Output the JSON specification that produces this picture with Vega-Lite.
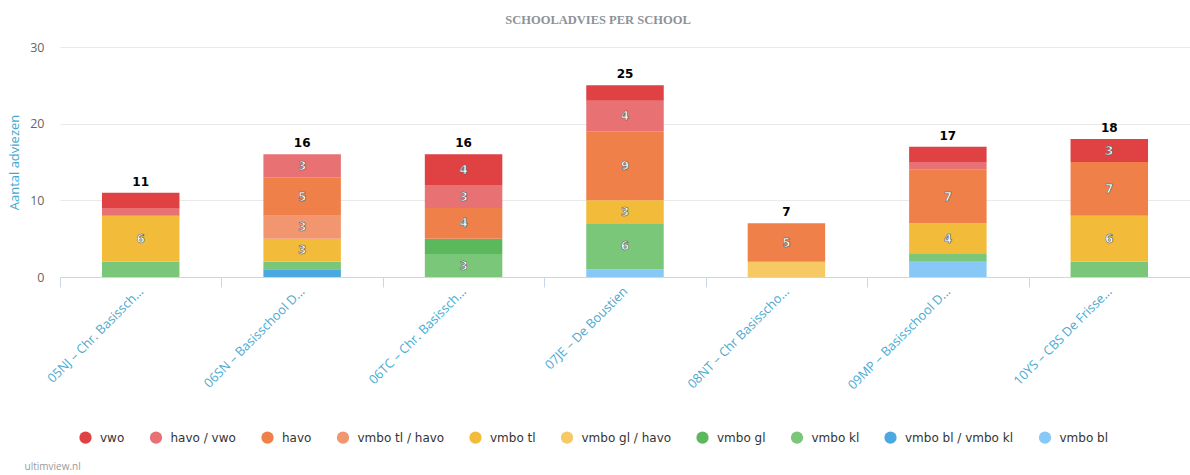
{
  "$schema": "https://vega.github.io/schema/vega-lite/v6.json",
  "autosize": {"type": "none"},
  "width": 1130,
  "height": 230,
  "padding": {"left": 60, "top": 47, "right": 0, "bottom": 198},
  "background": "#ffffff",
  "title": {
    "text": "SCHOOLADVIES PER SCHOOL",
    "font": "Liberation Serif",
    "fontSize": 12.5,
    "fontWeight": "bold",
    "color": "#8e9297",
    "anchor": "middle",
    "frame": "group",
    "dx": -27,
    "offset": 15
  },
  "config": {
    "view": {"stroke": null},
    "font": "Open Sans"
  },
  "datasets": {
    "advies": [
      {"school": "05NJ – Chr. Basissch...", "niveau": "vmbo kl", "rang": 3, "aantal": 2},
      {"school": "05NJ – Chr. Basissch...", "niveau": "vmbo tl", "rang": 6, "aantal": 6},
      {"school": "05NJ – Chr. Basissch...", "niveau": "havo / vwo", "rang": 9, "aantal": 1},
      {"school": "05NJ – Chr. Basissch...", "niveau": "vwo", "rang": 10, "aantal": 2},

      {"school": "06SN – Basisschool D...", "niveau": "vmbo bl / vmbo kl", "rang": 2, "aantal": 1},
      {"school": "06SN – Basisschool D...", "niveau": "vmbo kl", "rang": 3, "aantal": 1},
      {"school": "06SN – Basisschool D...", "niveau": "vmbo tl", "rang": 6, "aantal": 3},
      {"school": "06SN – Basisschool D...", "niveau": "vmbo tl / havo", "rang": 7, "aantal": 3},
      {"school": "06SN – Basisschool D...", "niveau": "havo", "rang": 8, "aantal": 5},
      {"school": "06SN – Basisschool D...", "niveau": "havo / vwo", "rang": 9, "aantal": 3},

      {"school": "06TC – Chr. Basissch...", "niveau": "vmbo kl", "rang": 3, "aantal": 3},
      {"school": "06TC – Chr. Basissch...", "niveau": "vmbo gl", "rang": 4, "aantal": 2},
      {"school": "06TC – Chr. Basissch...", "niveau": "havo", "rang": 8, "aantal": 4},
      {"school": "06TC – Chr. Basissch...", "niveau": "havo / vwo", "rang": 9, "aantal": 3},
      {"school": "06TC – Chr. Basissch...", "niveau": "vwo", "rang": 10, "aantal": 4},

      {"school": "07JE – De Boustien", "niveau": "vmbo bl", "rang": 1, "aantal": 1},
      {"school": "07JE – De Boustien", "niveau": "vmbo kl", "rang": 3, "aantal": 6},
      {"school": "07JE – De Boustien", "niveau": "vmbo tl", "rang": 6, "aantal": 3},
      {"school": "07JE – De Boustien", "niveau": "havo", "rang": 8, "aantal": 9},
      {"school": "07JE – De Boustien", "niveau": "havo / vwo", "rang": 9, "aantal": 4},
      {"school": "07JE – De Boustien", "niveau": "vwo", "rang": 10, "aantal": 2},

      {"school": "08NT – Chr Basisscho...", "niveau": "vmbo gl / havo", "rang": 5, "aantal": 2},
      {"school": "08NT – Chr Basisscho...", "niveau": "havo", "rang": 8, "aantal": 5},

      {"school": "09MP – Basisschool D...", "niveau": "vmbo bl", "rang": 1, "aantal": 2},
      {"school": "09MP – Basisschool D...", "niveau": "vmbo kl", "rang": 3, "aantal": 1},
      {"school": "09MP – Basisschool D...", "niveau": "vmbo tl", "rang": 6, "aantal": 4},
      {"school": "09MP – Basisschool D...", "niveau": "havo", "rang": 8, "aantal": 7},
      {"school": "09MP – Basisschool D...", "niveau": "havo / vwo", "rang": 9, "aantal": 1},
      {"school": "09MP – Basisschool D...", "niveau": "vwo", "rang": 10, "aantal": 2},

      {"school": "10YS – CBS De Frisse...", "niveau": "vmbo kl", "rang": 3, "aantal": 2},
      {"school": "10YS – CBS De Frisse...", "niveau": "vmbo tl", "rang": 6, "aantal": 6},
      {"school": "10YS – CBS De Frisse...", "niveau": "havo", "rang": 8, "aantal": 7},
      {"school": "10YS – CBS De Frisse...", "niveau": "vwo", "rang": 10, "aantal": 3}
    ]
  },
  "data": {"name": "advies"},
  "transform": [
    {"stack": "aantal", "groupby": ["school"], "sort": [{"field": "rang", "order": "ascending"}], "as": ["y0", "y1"]},
    {"calculate": "(datum.y0 + datum.y1) / 2", "as": "ymid"}
  ],
  "encoding": {
    "x": {
      "field": "school",
      "type": "nominal",
      "sort": null,
      "scale": {"paddingInner": 0, "paddingOuter": 0},
      "axis": {
        "tickBand": "extent",
        "domainColor": "#ccd6eb",
        "tickColor": "#ccd6eb",
        "tickSize": 10,
        "labelAngle": -45,
        "labelAlign": "right",
        "labelBaseline": "middle",
        "labelPadding": 2,
        "labelColor": "#4aaad0",
        "labelFont": "Open Sans",
        "labelFontSize": 12.75,
        "labelLimit": 300,
        "title": "ultimview.nl",
        "titleFont": "Open Sans",
        "titleFontSize": 10,
        "titleFontWeight": "normal",
        "titleColor": "#9a9a9a",
        "titleAnchor": "start",
        "titleAlign": "left",
        "titleBaseline": "middle",
        "titleX": -36,
        "titleY": 189
      }
    }
  },
  "layer": [
    {
      "mark": {"type": "bar", "width": {"band": 0.48}},
      "encoding": {
        "y": {
          "field": "y0",
          "type": "quantitative",
          "scale": {"domain": [0, 30], "nice": false},
          "axis": {
            "values": [0, 10, 20, 30],
            "grid": true,
            "gridColor": "#e9e9e9",
            "domain": false,
            "ticks": false,
            "labelPadding": 16,
            "labelColor": "#666666",
            "labelFont": "Open Sans",
            "labelFontSize": 12.5,
            "title": "Aantal adviezen",
            "titleFont": "Open Sans",
            "titleFontSize": 13,
            "titleFontWeight": "normal",
            "titleColor": "#45a8cf",
            "titlePadding": 8
          }
        },
        "y2": {"field": "y1"},
        "color": {
          "field": "niveau",
          "type": "nominal",
          "scale": {
            "domain": ["vwo", "havo / vwo", "havo", "vmbo tl / havo", "vmbo tl", "vmbo gl / havo", "vmbo gl", "vmbo kl", "vmbo bl / vmbo kl", "vmbo bl"],
            "range": ["#e04143", "#e87174", "#f08049", "#f29670", "#f3bb3a", "#f6c965", "#5cb85c", "#7bc77a", "#4aa9e0", "#88c8f7"]
          },
          "legend": {
            "orient": "none",
            "legendX": 19,
            "legendY": 384,
            "direction": "horizontal",
            "columns": 10,
            "title": null,
            "symbolType": "circle",
            "symbolSize": 150,
            "symbolStrokeWidth": 0,
            "labelFont": "DejaVu Sans",
            "labelFontSize": 12,
            "labelColor": "#333333",
            "labelOffset": 8,
            "columnPadding": 24.5
          }
        }
      }
    },
    {
      "transform": [{"filter": "datum.aantal >= 3"}],
      "mark": {
        "type": "text",
        "font": "DejaVu Sans",
        "fontSize": 12,
        "fontWeight": "bold",
        "fill": "#ffffff",
        "stroke": "#5a5a5a",
        "strokeWidth": 0.6,
        "baseline": "middle",
        "align": "center"
      },
      "encoding": {
        "y": {"field": "ymid", "type": "quantitative"},
        "text": {"field": "aantal", "type": "quantitative"}
      }
    },
    {
      "transform": [{"aggregate": [{"op": "sum", "field": "aantal", "as": "totaal"}], "groupby": ["school"]}],
      "mark": {
        "type": "text",
        "font": "DejaVu Sans",
        "fontSize": 12,
        "fontWeight": "bold",
        "color": "#000000",
        "baseline": "bottom",
        "align": "center",
        "dy": -4
      },
      "encoding": {
        "y": {"field": "totaal", "type": "quantitative"},
        "text": {"field": "totaal", "type": "quantitative"}
      }
    }
  ]
}
